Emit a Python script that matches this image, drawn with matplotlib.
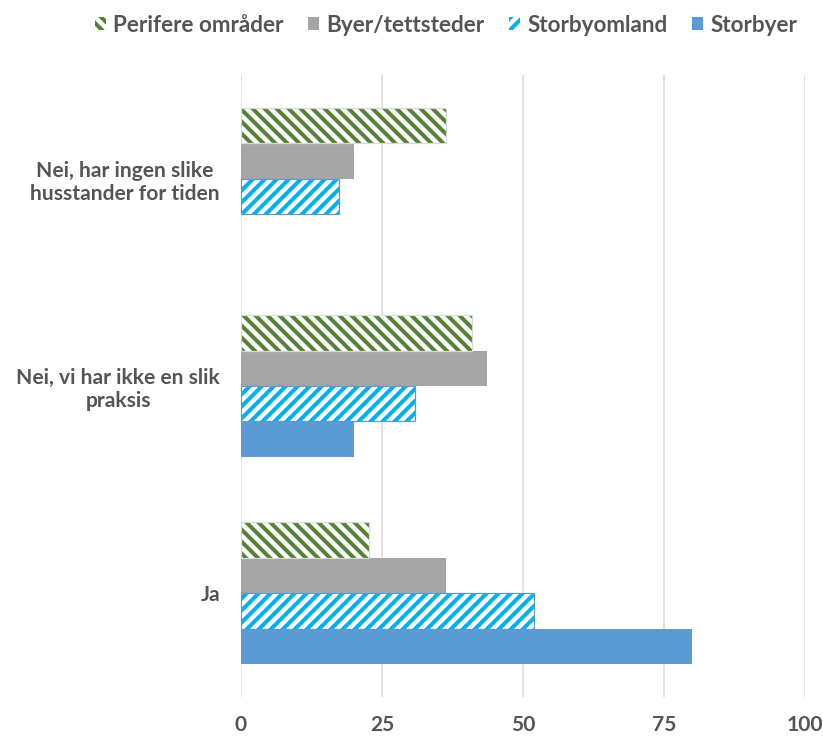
import matplotlib
matplotlib.use("Agg")
import matplotlib.pyplot as plt
import numpy as np
from matplotlib.patches import Patch

plt.rcParams['font.family'] = ['Lato', 'DejaVu Sans']
plt.rcParams['hatch.linewidth'] = 4.0

categories = ["Ja", "Nei, vi har ikke en slik\npraksis", "Nei, har ingen slike\nhusstander for tiden"]
series = ["Storbyer", "Storbyomland", "Byer/tettsteder", "Perifere områder"]
storbyer = [80.0, 20.0, 0.0]
storbyomland = [51.9, 30.8, 17.4]
byer = [36.4, 43.6, 20.0]
perifere = [22.7, 40.9, 36.4]
xticks = [0, 25, 50, 75, 100]

DPI = 72
fs = 21
fig = plt.figure(figsize=(823 / DPI, 738 / DPI), dpi=DPI)
ax = fig.add_axes([241 / 823, 1 - 697 / 738, (805 - 241) / 823, (697 - 75) / 738])

txt = '#555555'
h = 0.171
y = np.arange(len(categories))
offsets = [-1.5, -0.5, 0.5, 1.5]

# Storbyer: solid
ax.barh(y + offsets[0] * h, storbyer, height=h, color='#5B9BD5', linewidth=0, zorder=3)
# Storbyomland: cyan hatch
ax.barh(y + offsets[1] * h, storbyomland, height=h, color='white', edgecolor='#00B0F0', hatch='//', linewidth=0, zorder=3)
ax.barh(y + offsets[1] * h, storbyomland, height=h, color='none', edgecolor='#5B9BD5', linewidth=1.2, zorder=4)
# Byer: gray
ax.barh(y + offsets[2] * h, byer, height=h, color='#A5A5A5', linewidth=0, zorder=3)
# Perifere: green hatch
ax.barh(y + offsets[3] * h, perifere, height=h, color='white', edgecolor='#548235', hatch='\\\\', linewidth=0, zorder=3)
ax.barh(y + offsets[3] * h, perifere, height=h, color='none', edgecolor='#D9D9D9', linewidth=1.2, zorder=4)

ax.set_xlim(0, 100)
ax.set_ylim(-0.5, 2.5)
ax.set_xticks(xticks)
ax.set_xticklabels([str(t) for t in xticks], fontsize=fs, fontweight='bold', color=txt)
ax.set_yticks(y)
ax.set_yticklabels(categories, fontsize=fs, fontweight='bold', color=txt, multialignment='center',
                   linespacing=1.2)
ax.tick_params(axis='both', length=0)
ax.tick_params(axis='x', pad=18)
ax.tick_params(axis='y', pad=21)
ax.grid(axis='x', color='#D9D9D9', linewidth=1.5, zorder=0)
for s in ax.spines.values():
    s.set_visible(False)

handles = [
    Patch(facecolor='white', edgecolor='#548235', hatch='\\\\', linewidth=0),
    Patch(facecolor='#A5A5A5', edgecolor='#A5A5A5', linewidth=0),
    Patch(facecolor='white', edgecolor='#00B0F0', hatch='//', linewidth=0),
    Patch(facecolor='#5B9BD5', edgecolor='#5B9BD5', linewidth=0),
]
labels = ["Perifere områder", "Byer/tettsteder", "Storbyomland", "Storbyer"]
leg = fig.legend(handles, labels, loc='center', bbox_to_anchor=(446 / 823, 1 - 25 / 738), ncol=4,
                 frameon=False, handlelength=0.5, handleheight=0.5, handletextpad=0.3, columnspacing=1.1,
                 prop={'size': 22.5, 'weight': 'bold'})
for t in leg.get_texts():
    t.set_color(txt)

fig.savefig('out.png', dpi=DPI)
